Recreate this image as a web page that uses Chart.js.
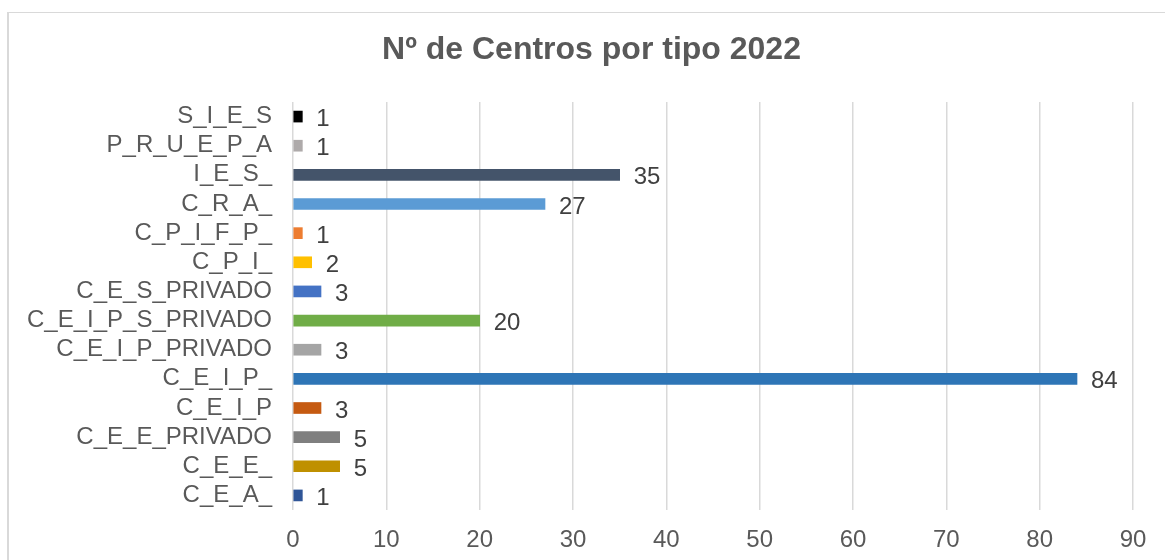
<!DOCTYPE html>
<html lang="es">
<head>
    <meta charset="UTF-8">
    <title>Nº de Centros por tipo 2022</title>
    <script src="https://cdn.jsdelivr.net/npm/chart.js"></script>
    <style>
        body {
            margin: 0;
            background-color: #fff;
            overflow: hidden;
        }
        #marco {
            position: absolute;
            left: 7px;
            top: 12px;
            width: 1200px;
            height: 600px;
            border-left: 2px solid #d9d9d9;
            border-top: 1px solid #d9d9d9;
        }
        #grafico {
            position: absolute;
            left: 0;
            top: 0;
        }
    </style>
</head>
<body>
    <div id="marco"></div>
    <canvas id="grafico" width="1165" height="560"></canvas>

    <script>
        const titulo = 'Nº de Centros por tipo 2022';
        const categorias = ['S_I_E_S', 'P_R_U_E_P_A', 'I_E_S_', 'C_R_A_', 'C_P_I_F_P_', 'C_P_I_',
            'C_E_S_PRIVADO', 'C_E_I_P_S_PRIVADO', 'C_E_I_P_PRIVADO', 'C_E_I_P_', 'C_E_I_P',
            'C_E_E_PRIVADO', 'C_E_E_', 'C_E_A_'];
        const valores = [1, 1, 35, 27, 1, 2, 3, 20, 3, 84, 3, 5, 5, 1];
        const colores = ['#000000', '#aeaaaa', '#44546a', '#5b9bd5', '#ed7d31', '#ffc000',
            '#4472c4', '#70ad47', '#a5a5a5', '#2e75b6', '#c55a11', '#7f7f7f', '#bf9000', '#2f5597'];

        const fuente = '"Liberation Sans", Arial, sans-serif';

        // titulo centrado sobre todo el marco (no sobre el area del grafico)
        const tituloMarco = {
            id: 'tituloMarco',
            afterDraw(chart) {
                const ctx = chart.ctx;
                ctx.save();
                ctx.font = 'bold 32px ' + fuente;
                ctx.fillStyle = '#595959';
                ctx.textAlign = 'center';
                ctx.textBaseline = 'middle';
                ctx.fillText(titulo, 591.5, 50);
                ctx.restore();
            }
        };

        // etiquetas de valor al final de cada barra
        const etiquetasValor = {
            id: 'etiquetasValor',
            afterDatasetsDraw(chart) {
                const ctx = chart.ctx;
                const meta = chart.getDatasetMeta(0);
                ctx.save();
                ctx.font = '24px ' + fuente;
                ctx.fillStyle = '#404040';
                ctx.textAlign = 'left';
                ctx.textBaseline = 'middle';
                meta.data.forEach((barra, i) => {
                    ctx.fillText(String(valores[i]), barra.x + 14, barra.y + 3);
                });
                ctx.restore();
            }
        };

        const ctx = document.getElementById('grafico').getContext('2d');
        new Chart(ctx, {
            type: 'bar',
            data: {
                labels: categorias,
                datasets: [{
                    data: valores,
                    backgroundColor: colores,
                    borderWidth: 0,
                    barThickness: 11
                }]
            },
            options: {
                indexAxis: 'y',
                responsive: false,
                animation: false,
                layout: {
                    padding: { top: 102, left: 0, right: 32, bottom: 0 }
                },
                plugins: {
                    legend: { display: false },
                    tooltip: { enabled: false },
                    title: { display: false }
                },
                scales: {
                    x: {
                        min: 0,
                        max: 90,
                        ticks: {
                            stepSize: 10,
                            color: '#595959',
                            padding: 16,
                            font: { family: fuente, size: 24 }
                        },
                        grid: {
                            color: '#d9d9d9',
                            lineWidth: 1.5,
                            drawTicks: false
                        },
                        border: { display: false },
                        afterFit(scale) {
                            scale.height = 50;
                        }
                    },
                    y: {
                        ticks: {
                            color: '#595959',
                            padding: 21,
                            autoSkip: false,
                            font: { family: fuente, size: 24 }
                        },
                        grid: { display: false, drawTicks: false },
                        border: { display: false },
                        afterFit(scale) {
                            scale.width = 293;
                        }
                    }
                }
            },
            plugins: [etiquetasValor, tituloMarco]
        });
    </script>
</body>
</html>
